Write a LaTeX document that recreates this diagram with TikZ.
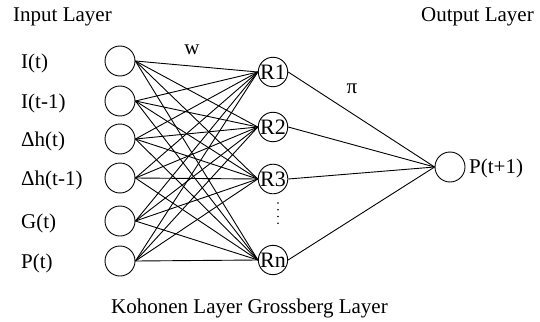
\documentclass[tikz,border=0pt]{standalone}
\usepackage{fontspec}
\setmainfont{Liberation Serif}
\begin{document}
\begin{tikzpicture}[x=1pt,y=-1pt,
  neuron/.style={draw,circle,line width=0.9pt,minimum size=30pt,inner sep=0pt},
  rneuron/.style={draw,circle,line width=0.9pt,minimum size=29pt,inner sep=0pt,font=\fontsize{22}{22}\selectfont},
  lbl/.style={anchor=base west,inner sep=0pt,font=\fontsize{21}{21}\selectfont},
  conn/.style={line width=0.9pt}]
\useasboundingbox (0,0) rectangle (540,321);
% titles
\node[lbl] (tin) at (13,22) {Input Layer};
\node[lbl] (tout) at (421,22) {Output Layer};
\node[lbl] (tbot) at (111,313) {Kohonen Layer Grossberg Layer};
% input neurons
\foreach \i/\y/\t in {1/61/I(t),2/101/I(t-1),3/139/Δh(t),4/178/Δh(t-1),5/221/G(t),6/261/P(t)}{
  \node[neuron] (in\i) at (120,\y) {};
  \node[lbl] (lab\i) at (21,\y+7) {\t};
}
% Kohonen neurons
\node[rneuron] (r1) at (273,72) {R1};
\node[rneuron] (r2) at (273,127) {R2};
\node[rneuron] (r3) at (273,179) {R3};
\node[rneuron] (r4) at (273,260) {Rn};
% output neuron
\node[neuron] (out) at (450,167) {};
\node[lbl] (lout) at (469,173) {P(t+1)};
% weights labels
\node[anchor=base,inner sep=0pt,font=\fontsize{21}{21}\selectfont] (w) at (192,55) {w};
\node[anchor=base,inner sep=0pt,font=\fontsize{21}{21}\selectfont] (pi) at (352,93) {π};
% connections
\foreach \i in {1,...,6}{
  \foreach \j in {1,...,4}{
    \draw[conn] (in\i.east) -- (r\j.west);
  }
}
\foreach \j in {1,...,4}{
  \draw[conn] (r\j.east) -- (out.west);
}
% dots
\coordinate (d1) at (278,203);
\coordinate (d2) at (278,230);
\draw[line width=1.6pt,line cap=round,dash pattern=on 0pt off 6.75pt] (d1) -- (d2);
\end{tikzpicture}
\end{document}
